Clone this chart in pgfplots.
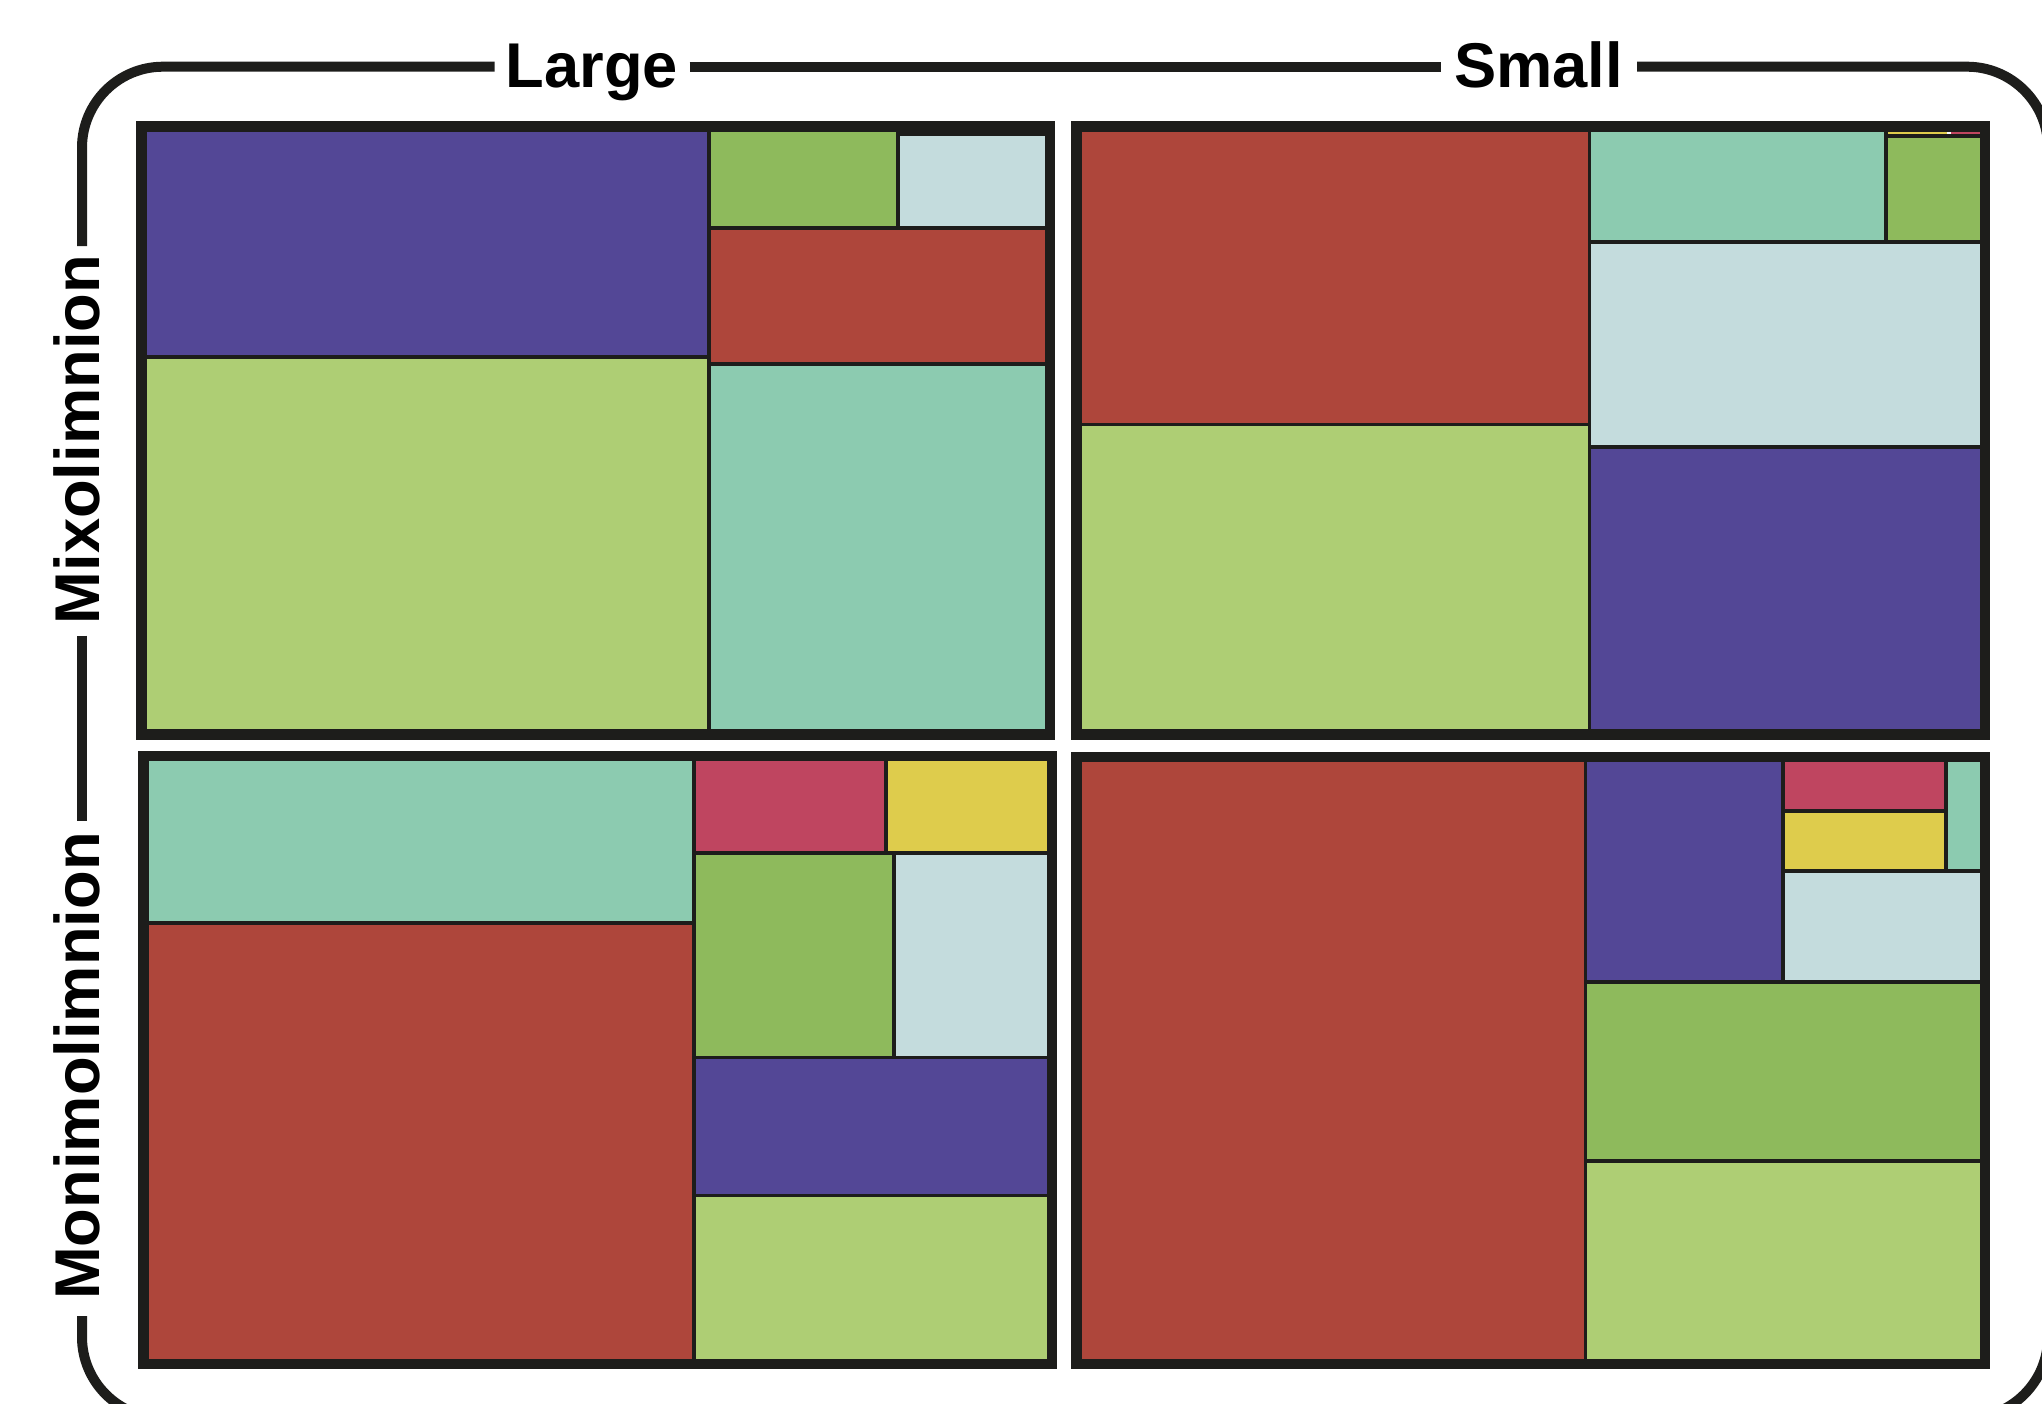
\documentclass[border=0pt]{standalone}
\usepackage{fontspec}
\setmainfont{Liberation Sans}
\usepackage{pgfplots}
\pgfplotsset{compat=1.18}

\definecolor{frame}{HTML}{1D1D1B}
\definecolor{cpurple}{HTML}{534796}
\definecolor{clgreen}{HTML}{AECE74}
\definecolor{cgreen}{HTML}{8EBA5C}
\definecolor{clblue}{HTML}{C4DCDD}
\definecolor{cred}{HTML}{AE463B}
\definecolor{cteal}{HTML}{8CCBB0}
\definecolor{cpink}{HTML}{BF4560}
\definecolor{cyellow}{HTML}{DECC4C}

% one treemap tile: x0 y0 x1 y1 colour (pixel units, y downwards)
\newcommand{\cell}[5]{\addplot[fill=#5, draw=frame, line width=0.38mm]
  coordinates {(#1,#2) (#3,#2) (#3,#4) (#1,#4)} -- cycle;}
\newcommand{\sliver}[5]{\addplot[fill=#5, draw=none]
  coordinates {(#1,#2) (#3,#2) (#3,#4) (#1,#4)} -- cycle;}
\newcommand{\panel}[4]{\addplot[draw=frame, fill=none, line width=1.05mm]
  coordinates {(#1,#2) (#3,#2) (#3,#4) (#1,#4)} -- cycle;}

\begin{document}
\begin{tikzpicture}
\begin{axis}[
    width=204.2mm, height=140.3mm,
    scale only axis,
    xmin=0, xmax=2042,
    ymin=0, ymax=1403,
    y dir=reverse,
    hide axis,
    clip=true,
]
% rounded frame round the four panels
\draw[frame, line width=1.0mm, rounded corners=8.1mm]
  (82,246) -- (82,66.7) -- (494.6,66.7);
\draw[frame, line width=1.0mm] (689.7,66.7) -- (1441,66.7);
\draw[frame, line width=1.0mm, rounded corners=8.1mm]
  (1637,66.7) -- (2048,66.7) -- (2048,1418) -- (82,1418) -- (82,1316);
\draw[frame, line width=1.0mm] (82,635.5) -- (82,820.5);

% Large / Mixolimnion
\cell{141.5}{126.5}{708.7}{357.3}{cpurple}
\cell{141.5}{357.3}{708.7}{734.5}{clgreen}
\cell{708.7}{126.5}{897.7}{228.3}{cgreen}
\cell{897.7}{134}{1050}{228.3}{clblue}
\cell{708.7}{228.3}{1050}{364.3}{cred}
\cell{708.7}{364.3}{1050}{734.5}{cteal}

% Small / Mixolimnion
\cell{1076.5}{126.5}{1589.5}{424.5}{cred}
\cell{1076.5}{424.5}{1589.5}{734.5}{clgreen}
\cell{1589.5}{126.5}{1885.75}{241.7}{cteal}
\cell{1885.75}{135.8}{1985}{241.7}{cgreen}
\cell{1589.5}{241.7}{1985}{446.7}{clblue}
\cell{1589.5}{446.7}{1985}{734.5}{cpurple}
\sliver{1887.7}{132}{1946.7}{134.2}{cyellow}
\sliver{1951}{132}{1980}{134.2}{cpink}

% Large / Monimolimnion
\cell{143.5}{756}{694.3}{923.3}{cteal}
\cell{143.5}{923.3}{694.3}{1364}{cred}
\cell{694.3}{756}{885.7}{853.3}{cpink}
\cell{885.7}{756}{1052}{853.3}{cyellow}
\cell{694.3}{853.3}{894}{1057.5}{cgreen}
\cell{894}{853.3}{1052}{1057.5}{clblue}
\cell{694.3}{1057.5}{1052}{1195.5}{cpurple}
\cell{694.3}{1195.5}{1052}{1364}{clgreen}

% Small / Monimolimnion
\cell{1076.5}{757}{1585.5}{1364}{cred}
\cell{1585.5}{757}{1783}{982}{cpurple}
\cell{1783}{757}{1946.3}{811}{cpink}
\cell{1783}{811}{1946.3}{871.3}{cyellow}
\cell{1946.3}{757}{1985}{871.3}{cteal}
\cell{1783}{871.3}{1985}{982}{clblue}
\cell{1585.5}{982}{1985}{1161}{cgreen}
\cell{1585.5}{1161}{1985}{1364}{clgreen}

% panel outlines
\panel{141.5}{126.5}{1050}{734.5}
\panel{1076.5}{126.5}{1985}{734.5}
\panel{143.5}{756}{1052}{1364}
\panel{1076.5}{757}{1985}{1364}

% labels
\node[anchor=base, font=\bfseries\fontsize{18}{21}\selectfont] at (591.75,87.3) {Large};
\node[anchor=base, font=\bfseries\fontsize{18}{21}\selectfont] at (1538.4,87.3) {Small};
\node[anchor=base, rotate=90, font=\bfseries\fontsize{18}{21}\selectfont] at (99,439.6) {Mixolimnion};
\node[anchor=base, rotate=90, font=\bfseries\fontsize{18}{21}\selectfont] at (99,1066) {Monimolimnion};
\end{axis}
\pgfresetboundingbox
\path[use as bounding box] (current axis.south west) rectangle (current axis.north east);
\end{tikzpicture}
\end{document}
